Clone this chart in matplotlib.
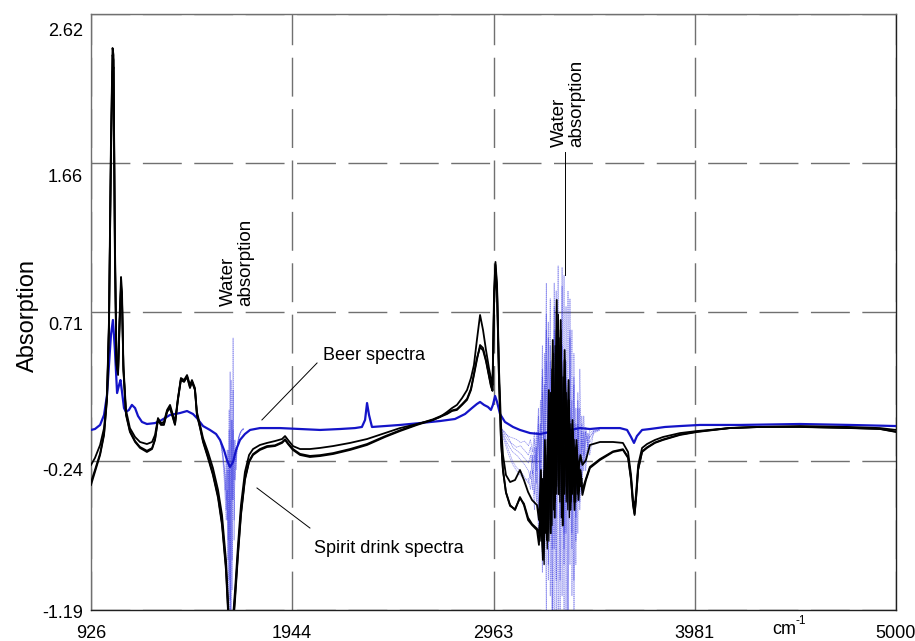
import matplotlib
matplotlib.use('Agg')
import matplotlib.pyplot as plt
from matplotlib.transforms import offset_copy

plt.rcParams['font.family'] = ['Liberation Sans', 'DejaVu Sans']

# ---------------- data ----------------
x_ticks = [926, 1944, 2963, 3981, 5000]
x_tick_labels = ['926', '1944', '2963', '3981', '5000']
y_ticks = [-1.19, -0.2375, 0.715, 1.6675, 2.62]
y_tick_labels = ['-1.19', '-0.24', '0.71', '1.66', '2.62']

# spirit drink spectra (black) share one wavenumber grid
black_wn = [
    926, 946, 972, 992, 1007, 1017, 1027, 1035, 1040, 1047,
    1055, 1063, 1070, 1078, 1083, 1090, 1103, 1123, 1149, 1174,
    1209, 1235, 1250, 1265, 1280, 1295, 1311, 1326, 1341, 1351,
    1366, 1381, 1397, 1412, 1427, 1437, 1452, 1462, 1478, 1493,
    1518, 1543, 1569, 1589, 1609, 1624, 1640, 1655, 1670, 1685,
    1705, 1726, 1746, 1781, 1817, 1857, 1893, 1908, 1923, 1948,
    1984, 2034, 2085, 2151, 2237, 2323, 2414, 2490, 2576, 2657,
    2692, 2728, 2753, 2778, 2804, 2829, 2849, 2864, 2879, 2895,
    2910, 2925, 2940, 2950, 2958, 2966, 2973, 2981, 2991, 3001,
    3011, 3026, 3047, 3072, 3097, 3117, 3138, 3158, 3183,
    3193, 3203, 3213, 3223, 3233, 3243, 3253, 3263, 3273, 3283,
    3293, 3303, 3313, 3323, 3333, 3343, 3353, 3363, 3373, 3383,
    3393, 3403, 3413,
    3431, 3451, 3502, 3568, 3618, 3644, 3659, 3669, 3677, 3684,
    3695, 3715, 3740, 3780, 3821, 3907, 3993, 4160, 4312, 4514,
    4767, 4919, 5000]

spirit_hi = [
    -0.263, -0.218, -0.135, -0.027, 0.184, 0.664, 1.814, 2.403, 2.358, 1.175,
    0.408, 0.344, 0.664, 0.939, 0.843, 0.376, 0.089, -0.027, -0.084, -0.116,
    -0.129, -0.116, -0.071, 0.037, 0.005, 0.012, 0.089, 0.121, 0.057, 0.012,
    0.165, 0.293, 0.280, 0.312, 0.248, 0.280, 0.229, 0.076, -0.007, -0.091,
    -0.180, -0.282, -0.423, -0.583, -0.870, -1.254, -1.318, -1.062, -0.774, -0.519,
    -0.308, -0.199, -0.161, -0.135, -0.122, -0.110, -0.097, -0.078, -0.103, -0.142,
    -0.161, -0.161, -0.154, -0.142, -0.122, -0.097, -0.059, -0.027, -0.001, 0.025,
    0.044, 0.076, 0.101, 0.121, 0.165, 0.216, 0.293, 0.376, 0.536, 0.696,
    0.600, 0.472, 0.357, 0.293, 0.248, 0.856, 1.035, 0.888, 0.344, -0.007,
    -0.199, -0.327, -0.372, -0.359, -0.295, -0.359, -0.436, -0.487, -0.519,
    -0.615, -0.295, -0.743, -0.103, -0.551, 0.216, -0.423, 0.536, -0.295, 0.792,
    -0.231, 0.600, -0.359, 0.408, -0.167, 0.153, -0.295, -0.039, -0.359, -0.135,
    -0.295, -0.199, -0.263,
    -0.231, -0.135, -0.116, -0.116, -0.122, -0.180, -0.327, -0.487, -0.532, -0.455,
    -0.263, -0.154, -0.129, -0.103, -0.084, -0.059, -0.046, -0.027, -0.020, -0.014,
    -0.020, -0.027, -0.039]

spirit_lo1 = [
    -0.391, -0.308, -0.199, -0.071, 0.153, 0.600, 1.751, 2.358, 2.326, 1.111,
    0.376, 0.312, 0.600, 0.888, 0.792, 0.344, 0.057, -0.052, -0.116, -0.154,
    -0.180, -0.161, -0.103, 0.025, -0.007, -0.007, 0.076, 0.101, 0.037, -0.007,
    0.153, 0.280, 0.268, 0.300, 0.229, 0.268, 0.216, 0.057, -0.027, -0.116,
    -0.218, -0.327, -0.474, -0.647, -0.934, -1.318, -1.382, -1.126, -0.838, -0.583,
    -0.359, -0.244, -0.199, -0.167, -0.148, -0.142, -0.122, -0.103, -0.129, -0.167,
    -0.199, -0.212, -0.206, -0.193, -0.167, -0.135, -0.084, -0.046, -0.007, 0.025,
    0.044, 0.063, 0.082, 0.089, 0.121, 0.153, 0.216, 0.312, 0.408, 0.504,
    0.485, 0.408, 0.312, 0.248, 0.216, 0.792, 1.016, 0.856, 0.280, -0.103,
    -0.295, -0.436, -0.519, -0.551, -0.468, -0.519, -0.615, -0.647, -0.679,
    -0.774, -0.487, -0.870, -0.295, -0.743, 0.025, -0.615, 0.408, -0.487, 0.600,
    -0.359, 0.664, -0.551, 0.472, -0.295, 0.280, -0.487, 0.025, -0.551, -0.103,
    -0.487, -0.295, -0.455,
    -0.359, -0.282, -0.231, -0.180, -0.167, -0.218, -0.359, -0.519, -0.583, -0.487,
    -0.295, -0.180, -0.154, -0.122, -0.103, -0.071, -0.052, -0.027, -0.020, -0.020,
    -0.027, -0.033, -0.052]

spirit_lo2 = [
    -0.372, -0.295, -0.190, -0.062, 0.170, 0.630, 1.700, 2.250, 2.280, 1.050,
    0.390, 0.330, 0.620, 0.870, 0.780, 0.350, 0.065, -0.045, -0.110, -0.148,
    -0.172, -0.155, -0.098, 0.030, -0.002, -0.001, 0.080, 0.106, 0.042, -0.002,
    0.158, 0.285, 0.272, 0.305, 0.235, 0.272, 0.220, 0.062, -0.022, -0.108,
    -0.210, -0.318, -0.462, -0.632, -0.910, -1.290, -1.360, -1.100, -0.820, -0.570,
    -0.350, -0.238, -0.193, -0.161, -0.142, -0.137, -0.117, -0.098, -0.124, -0.161,
    -0.192, -0.205, -0.200, -0.187, -0.161, -0.129, -0.079, -0.041, -0.003, 0.029,
    0.048, 0.067, 0.086, 0.094, 0.126, 0.160, 0.225, 0.320, 0.420, 0.490,
    0.470, 0.400, 0.305, 0.240, 0.210, 0.760, 0.990, 0.830, 0.270, -0.110,
    -0.300, -0.440, -0.525, -0.545, -0.475, -0.510, -0.600, -0.640, -0.670,
    -0.700, -0.550, -0.800, -0.350, -0.650, -0.100, -0.700, 0.300, -0.600, 0.450,
    -0.450, 0.500, -0.650, 0.300, -0.400, 0.150, -0.550, -0.050, -0.500, -0.200,
    -0.420, -0.330, -0.420,
    -0.350, -0.275, -0.225, -0.176, -0.162, -0.212, -0.350, -0.510, -0.575, -0.480,
    -0.290, -0.176, -0.150, -0.119, -0.100, -0.068, -0.050, -0.026, -0.019, -0.019,
    -0.026, -0.032, -0.050]

# extra spirit traces inside the O-H water band
spirit_water_wn = [3195, 3203, 3211, 3219, 3227, 3235, 3243, 3251, 3259, 3267,
                   3275, 3283, 3291, 3299, 3307, 3315, 3323, 3331, 3339, 3347,
                   3355, 3363, 3371, 3379, 3387, 3395, 3403, 3411]
spirit_water_a = [-0.60, -0.40, -0.82, -0.30, -0.70, -0.10, -0.75, 0.20, -0.65, 0.45,
                  -0.50, 0.62, -0.40, 0.55, -0.60, 0.30, -0.45, 0.20, -0.55, 0.05,
                  -0.50, -0.05, -0.40, -0.15, -0.45, -0.25, -0.40, -0.35]
spirit_water_b = [-0.55, -0.75, -0.35, -0.90, -0.20, -0.80, 0.00, -0.70, 0.35, -0.55,
                  0.50, -0.45, 0.70, -0.50, 0.40, -0.65, 0.25, -0.50, 0.10, -0.60,
                  0.00, -0.45, -0.10, -0.50, -0.20, -0.40, -0.30, -0.38]

# beer spectra (blue), main trace
beer_wn = [926, 946, 972, 992, 1007, 1017, 1027, 1037, 1047, 1058,
           1068, 1075, 1083, 1093, 1103, 1118, 1133, 1149, 1164, 1184,
           1209, 1250, 1275, 1300, 1326, 1351, 1376, 1412, 1442, 1462,
           1493, 1528, 1559, 1579, 1599, 1614, 1629, 1645, 1660, 1680,
           1705, 1731, 1781, 1883, 1984, 2085, 2186, 2262, 2297, 2313,
           2323, 2333, 2348, 2414, 2490, 2591, 2692, 2768, 2819, 2854,
           2879, 2895, 2915, 2935, 2950, 2960, 2971, 2981, 2996, 3021,
           3062, 3097, 3148, 3198, 3249, 3299, 3350, 3401, 3451, 3502,
           3553, 3603, 3639, 3659, 3674, 3689, 3715, 3755, 3831, 3907,
           4008, 4210, 4514, 4767, 5000]
beer_abs = [-0.039, -0.033, -0.007, 0.057, 0.184, 0.376, 0.568, 0.664, 0.472, 0.197,
            0.248, 0.280, 0.204, 0.101, 0.076, 0.089, 0.121, 0.101, 0.050, 0.012,
            -0.001, 0.005, 0.018, 0.037, 0.057, 0.063, 0.069, 0.082, 0.063, 0.037,
            -0.014, -0.039, -0.065, -0.103, -0.167, -0.231, -0.276, -0.244, -0.167, -0.103,
            -0.065, -0.039, -0.027, -0.027, -0.033, -0.039, -0.033, -0.027, -0.020, 0.025,
            0.133, 0.057, -0.020, -0.014, -0.007, 0.005, 0.018, 0.031, 0.063, 0.101,
            0.127, 0.140, 0.121, 0.108, 0.089, 0.121, 0.178, 0.140, 0.063, 0.012,
            -0.020, -0.039, -0.059, -0.065, -0.052, -0.059, -0.039, -0.027, -0.033, -0.027,
            -0.027, -0.027, -0.039, -0.084, -0.122, -0.078, -0.039, -0.033, -0.020, -0.014,
            -0.007, -0.007, -0.001, -0.007, -0.014]

# individual beer traces in the water bending band (~1640 cm-1)
beer_band1_wn = [1580, 1585, 1590, 1595, 1600, 1605, 1610, 1615, 1620, 1625,
                 1630, 1635, 1640, 1645, 1650, 1655, 1660, 1665, 1670, 1675,
                 1680, 1685, 1690, 1695, 1700]
beer_band1_a = [-0.103, -0.129, -0.167, -0.218, -0.263, -0.359, -0.487, -0.295, -0.743, -0.039,
                -1.126, 0.280, -0.870, 0.549, -0.615, -0.295, -0.199, -0.148, -0.103, -0.078,
                -0.059, -0.046, -0.039, -0.033, -0.033]
beer_band1_b = [-0.110, -0.142, -0.180, -0.231, -0.295, -0.423, -0.231, -0.615, -0.167, -0.998,
                0.332, -1.190, 0.025, -0.487, -0.103, -0.359, -0.231, -0.167, -0.116, -0.084,
                -0.065, -0.052, -0.039, -0.033, -0.027]
beer_band1_c = [-0.097, -0.122, -0.161, -0.206, -0.282, -0.327, -0.551, -0.167, -0.870, 0.089,
                -1.254, -0.103, -1.062, 0.216, -0.743, -0.199, -0.244, -0.154, -0.110, -0.078,
                -0.059, -0.046, -0.039, -0.033, -0.033]
beer_band1_d = [-0.116, -0.148, -0.199, -0.263, -0.359, -0.487, -0.615, -0.423, -1.126, -0.295,
                -1.382, 0.025, -0.487, -0.039, -0.359, -0.103, -0.295, -0.180, -0.129, -0.091,
                -0.071, -0.052, -0.046, -0.039, -0.033]

# individual beer traces in the O-H stretching band
beer_band2_wn = [3000, 3020, 3040, 3060, 3080, 3100, 3120, 3140,
                 3150, 3160, 3170, 3180, 3190, 3200, 3210, 3220, 3230, 3240,
                 3250, 3260, 3270, 3280, 3290, 3300, 3310, 3320, 3330, 3340,
                 3350, 3360, 3370, 3380, 3390, 3400, 3410, 3420, 3430, 3440,
                 3450, 3470, 3500]
beer_band2_a = [-0.020, -0.070, -0.110, -0.130, -0.150, -0.140, -0.170, -0.200,
                -0.150, -0.250, -0.100, -0.300, 0.050, -0.450, 0.300, -0.700, 0.700, -0.900,
                0.500, -1.300, 0.900, -1.000, 0.600, -1.400, 1.000, -0.800, 0.400, -1.300,
                0.800, -0.700, 0.300, -0.900, 0.100, -0.500, 0.000, -0.300, -0.050, -0.150,
                -0.060, -0.040, -0.030]
beer_band2_b = [-0.030, -0.090, -0.140, -0.180, -0.200, -0.230, -0.260, -0.300,
                -0.350, -0.200, -0.450, -0.050, -0.550, 0.150, -0.800, 0.450, -0.600, 0.650,
                -1.100, 0.300, -0.800, 0.850, -1.400, 0.400, -0.600, 0.950, -1.200, 0.200,
                -0.900, 0.600, -1.500, 0.100, -0.700, 0.350, -0.400, 0.050, -0.250, -0.100,
                -0.200, -0.050, -0.040]
beer_band2_c = [-0.040, -0.100, -0.170, -0.240, -0.280, -0.300, -0.340, -0.380,
                -0.300, -0.420, -0.200, -0.500, -0.050, -0.650, 0.200, -0.900, 0.400, -0.500,
                0.800, -1.250, 0.200, -0.600, 0.700, -1.000, 0.500, -1.400, 0.300, -0.500,
                0.600, -1.100, 0.000, -0.600, 0.200, -0.350, -0.100, -0.200, -0.050, -0.180,
                -0.080, -0.050, -0.035]
beer_band2_d = [-0.025, -0.060, -0.080, -0.090, -0.100, -0.120, -0.110, -0.140,
                -0.100, -0.180, -0.050, -0.250, 0.100, -0.350, 0.500, -0.450, 0.900, -0.300,
                0.400, -0.800, 0.600, -0.200, 1.010, -0.600, 0.200, -0.900, 0.750, -0.400,
                0.100, -0.800, 0.450, -0.400, 0.000, -0.250, 0.050, -0.150, -0.020, -0.100,
                -0.040, -0.030, -0.030]
beer_band2_e = [-0.050, -0.120, -0.200, -0.260, -0.300, -0.330, -0.360, -0.350,
                -0.420, -0.300, -0.550, -0.150, -0.700, 0.000, -0.950, 0.250, -1.200, 0.550,
                -0.500, 0.200, -1.500, 0.700, -0.300, 0.500, -1.100, 0.300, -0.700, 0.850,
                -0.300, 0.150, -1.000, 0.000, -0.500, 0.100, -0.450, -0.050, -0.300, -0.080,
                -0.120, -0.060, -0.040]
beer_band2_f = [-0.030, -0.050, -0.090, -0.150, -0.170, -0.190, -0.220, -0.250,
                -0.200, -0.320, -0.150, -0.380, 0.000, -0.600, 0.350, -0.300, 0.600, -1.000,
                0.200, -0.450, 0.750, -1.200, 0.500, -0.200, 0.880, -0.700, 0.100, -1.300,
                0.550, -0.300, 0.250, -0.750, 0.150, -0.550, -0.050, -0.250, -0.100, -0.060,
                -0.090, -0.045, -0.035]

# ---------------- figure ----------------
W, H = 915, 641
fig = plt.figure(figsize=(W / 100, H / 100), dpi=100)
ax = fig.add_axes([91 / W, 1 - 610 / H, (896 - 91) / W, (610 - 14) / H])

blue = '#1414c8'
thin_blue = '#3030e0'

for ys in [beer_band1_a, beer_band1_b, beer_band1_c, beer_band1_d]:
    ax.plot(beer_band1_wn, ys, color=thin_blue, lw=0.5, alpha=0.55,
            linestyle=(0, (2, 0.8)), zorder=2)
for ys in [beer_band2_a, beer_band2_b, beer_band2_c, beer_band2_d,
           beer_band2_e, beer_band2_f]:
    ax.plot(beer_band2_wn, ys, color=thin_blue, lw=0.5, alpha=0.55,
            linestyle=(0, (2, 0.8)), zorder=2)

ax.plot(beer_wn, beer_abs, color=blue, lw=1.6, zorder=3)

for ys in [spirit_water_a, spirit_water_b]:
    ax.plot(spirit_water_wn, ys, color='black', lw=0.9, zorder=4)
for ys in [spirit_hi, spirit_lo1, spirit_lo2]:
    ax.plot(black_wn, ys, color='black', lw=1.3, zorder=4)

ax.set_xlim(926, 5000)
ax.set_ylim(-1.19, 2.62)
ax.set_xticks(x_ticks)
ax.set_yticks(y_ticks)
ax.tick_params(length=0, labelleft=False, labelbottom=False)
ax.set_axisbelow(True)
ax.grid(True, color='#707070', lw=1.0, linestyle=(0, (28, 9)))

for side in ['top', 'left']:
    ax.spines[side].set_color('#707070')
    ax.spines[side].set_linewidth(1.0)
for side in ['right', 'bottom']:
    ax.spines[side].set_color('#202020')
    ax.spines[side].set_linewidth(1.0)

# tick labels
y_label_dy = [-3, -11, -13, -14, -17]
for v, lab, dy in zip(y_ticks, y_tick_labels, y_label_dy):
    tr = offset_copy(ax.get_yaxis_transform(), fig=fig, x=-8, y=dy, units='dots')
    ax.text(0, v, lab, transform=tr, ha='right', va='center', fontsize=13,
            clip_on=False)
for v, lab in zip(x_ticks, x_tick_labels):
    tr = offset_copy(ax.get_xaxis_transform(), fig=fig, x=0, y=-24, units='dots')
    ax.text(v, 0, lab, transform=tr, ha='center', va='center', fontsize=13,
            clip_on=False)

fig.text(28 / W, 1 - 315 / H, 'Absorption', rotation=90, ha='center',
         va='center', fontsize=17)
fig.text(772 / W, 1 - 630 / H, 'cm', ha='left', va='center', fontsize=13)
fig.text(795 / W, 1 - 621 / H, '-1', ha='left', va='center', fontsize=8.5)

# annotations
ax.text(1665, 0.753, 'Water\nabsorption', rotation=90, ha='center', va='bottom',
        multialignment='left', fontsize=13.5, linespacing=1.0)
ax.text(3340, 1.77, 'Water\nabsorption', rotation=90, ha='center', va='bottom',
        multialignment='left', fontsize=13.5, linespacing=1.0)
ax.plot([3325, 3325], [1.74, 0.95], color='black', lw=0.7, zorder=5)

ax.text(2100, 0.44, 'Beer spectra', ha='left', va='center', fontsize=13)
ax.plot([2070, 1791], [0.389, 0.025], color='black', lw=0.7, zorder=5)
ax.text(2055, -0.80, 'Spirit drink spectra', ha='left', va='center', fontsize=13)
ax.plot([2034, 1766], [-0.666, -0.410], color='black', lw=0.7, zorder=5)

fig.savefig('out.png', dpi=100)
